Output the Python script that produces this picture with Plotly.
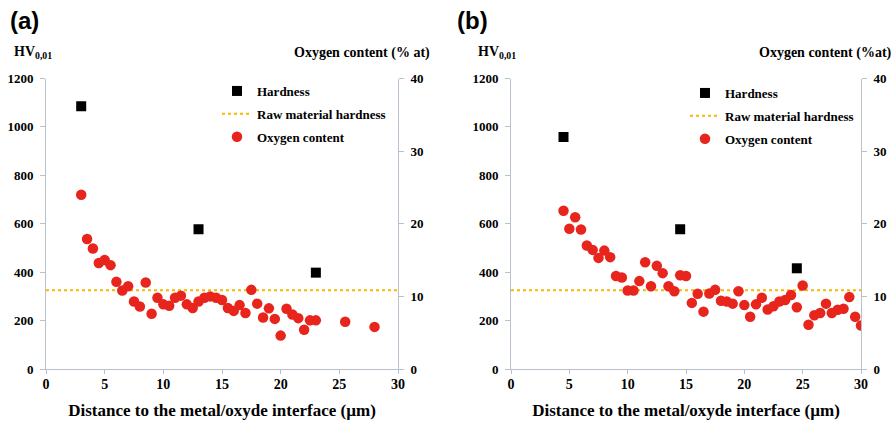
import plotly.graph_objects as go

W, H = 896, 423

# ---------------- data ----------------
raw_hardness = 325
raw_x = [0, 30]

hard_x_a = [3.0, 13.0, 23.0]
hard_y_a = [1085, 577, 398]
oxy_x_a = [3.0, 3.5, 4.0, 4.5, 5.0, 5.5, 6.0, 6.5, 7.0, 7.5, 8.0, 8.5, 9.0, 9.5,
           10.0, 10.5, 11.0, 11.5, 12.0, 12.5, 13.0, 13.5, 14.0, 14.5, 15.0, 15.5,
           16.0, 16.5, 17.0, 17.5, 18.0, 18.5, 19.0, 19.5, 20.0, 20.5, 21.0, 21.5,
           22.0, 22.5, 23.0, 25.5, 28.0]
oxy_y_a = [24.0, 17.9, 16.6, 14.6, 15.0, 14.3, 12.0, 10.8, 11.4, 9.3, 8.6, 11.9, 7.6, 9.8,
           8.9, 8.7, 9.8, 10.1, 8.9, 8.4, 9.3, 9.8, 10.0, 9.8, 9.5, 8.4,
           8.0, 8.8, 7.7, 10.9, 9.0, 7.1, 8.35, 6.9, 4.6, 8.3, 7.5, 7.0,
           5.4, 6.7, 6.7, 6.5, 5.8]

hard_x_b = [4.5, 14.5, 24.5]
hard_y_b = [958, 577, 416]
oxy_x_b = [4.5, 5.0, 5.5, 6.0, 6.5, 7.0, 7.5, 8.0, 8.5, 9.0, 9.5, 10.0, 10.5, 11.0,
           11.5, 12.0, 12.5, 13.0, 13.5, 14.0, 14.5, 15.0, 15.5, 16.0, 16.5, 17.0,
           17.5, 18.0, 18.5, 19.0, 19.5, 20.0, 20.5, 21.0, 21.5, 22.0, 22.5, 23.0,
           23.5, 24.0, 24.5, 25.0, 25.5, 26.0, 26.5, 27.0, 27.5, 28.0, 28.5, 29.0,
           29.5, 30.0]
oxy_y_b = [21.8, 19.3, 20.9, 19.2, 17.0, 16.4, 15.3, 16.3, 15.4, 12.8, 12.6, 10.8, 10.8, 12.1,
           14.7, 11.4, 14.2, 13.2, 11.4, 10.7, 12.9, 12.8, 9.1, 10.35, 7.9, 10.4,
           10.9, 9.4, 9.3, 9.0, 10.7, 8.8, 7.2, 8.9, 9.8, 8.2, 8.65, 9.3,
           9.5, 10.2, 8.5, 11.5, 6.1, 7.4, 7.7, 9.0, 7.7, 8.15, 8.3, 9.9,
           7.2, 6.0]

x_ticks = [0, 5, 10, 15, 20, 25, 30]
hv_ticks = [0, 200, 400, 600, 800, 1000, 1200]
oxy_ticks = [0, 10, 20, 30, 40]

names = ["Hardness", "Raw material hardness", "Oxygen content"]
x_title = "Distance to the metal/oxyde interface (µm)"
left_title = "HV<sub>0,01</sub>"
right_titles = ["Oxygen content (% at)", "Oxygen content (%at)"]
panel_labels = ["(a)", "(b)"]

# ---------------- style ----------------
SERIF = "'Liberation Serif', 'Times New Roman', serif"
SANS = "'Liberation Sans', Arial, sans-serif"
AX_COL = "#b7c0cb"
RED = "#e8251d"
YEL = "#f6b800"

def px_x(p):
    return p / W

def px_y(p):
    return 1 - p / H

y_dom = [px_y(369), px_y(78.5)]
x_doms = [[px_x(46), px_x(398)], [px_x(511), px_x(861)]]

fig = go.Figure()

panels = [
    (hard_x_a, hard_y_a, oxy_x_a, oxy_y_a),
    (hard_x_b, hard_y_b, oxy_x_b, oxy_y_b),
]

for i, (hx, hy, ox, oy) in enumerate(panels):
    xa = "x" if i == 0 else "x2"
    ya = "y" if i == 0 else "y3"
    ya2 = "y2" if i == 0 else "y4"
    leg = "legend" if i == 0 else "legend2"
    fig.add_trace(go.Scatter(
        x=hx, y=hy, mode="markers", name=names[0],
        marker=dict(symbol="square", size=10, color="black"),
        xaxis=xa, yaxis=ya, legend=leg, legendgroup=f"h{i}", legendrank=1))
    fig.add_trace(go.Scatter(
        x=raw_x, y=[raw_hardness, raw_hardness], mode="lines", name=names[1],
        line=dict(color=YEL, width=2, dash="dot"),
        xaxis=xa, yaxis=ya, legend=leg, legendgroup=f"r{i}", legendrank=2))
    fig.add_trace(go.Scatter(
        x=ox, y=oy, mode="markers", name=names[2],
        marker=dict(symbol="circle", size=10.5, color=RED),
        xaxis=xa, yaxis=ya2, legend=leg, legendgroup=f"o{i}", legendrank=3))

tickfont = dict(family=SERIF, size=13, color="black", weight="bold")

def xaxis_cfg(dom, anchor):
    return dict(domain=dom, anchor=anchor, range=[0, 30], tickvals=x_ticks,
                showline=True, linecolor=AX_COL, linewidth=1, ticks="outside",
                ticklen=4, tickcolor=AX_COL, showgrid=False, zeroline=False,
                automargin=False,
                tickfont=dict(family=SERIF, size=14, color="black", weight="bold"),
                ticklabelstandoff=-2,
                title=dict(text=x_title, standoff=13,
                           font=dict(family=SERIF, size=17, color="black", weight="bold")))

def yaxis_cfg(anchor, rng, vals, side, overlay=None):
    d = dict(domain=y_dom, anchor=anchor, range=rng, tickvals=vals, side=side,
             showline=True, linecolor=AX_COL, linewidth=1, ticks="outside",
             ticklen=5, tickcolor=AX_COL, showgrid=False, zeroline=False,
             automargin=False, tickfont=tickfont, ticklabelstandoff=4)
    if overlay:
        d["overlaying"] = overlay
    return d

fig.update_layout(
    width=W, height=H,
    margin=dict(l=0, r=0, t=0, b=0, autoexpand=False),
    paper_bgcolor="white", plot_bgcolor="white",
    xaxis=xaxis_cfg(x_doms[0], "y"),
    yaxis=yaxis_cfg("x", [0, 1200], hv_ticks, "left"),
    yaxis2=yaxis_cfg("x", [0, 40], oxy_ticks, "right", "y"),
    xaxis2=xaxis_cfg(x_doms[1], "y3"),
    yaxis3=yaxis_cfg("x2", [0, 1200], hv_ticks, "left"),
    yaxis4=yaxis_cfg("x2", [0, 40], oxy_ticks, "right", "y3"),
    legend=dict(x=px_x(217), y=px_y(76), xanchor="left", yanchor="top",
                bgcolor="rgba(0,0,0,0)", tracegroupgap=3,
                font=dict(family=SERIF, size=13, color="black", weight="bold")),
    legend2=dict(x=px_x(685), y=px_y(78), xanchor="left", yanchor="top",
                 bgcolor="rgba(0,0,0,0)", tracegroupgap=3,
                 font=dict(family=SERIF, size=13, color="black", weight="bold")),
)

ann = []
for i, (lx, hvx, ox_r) in enumerate([(8, 12, 432), (455, 476, 894)]):
    ann.append(dict(text=panel_labels[i], x=px_x(lx), y=px_y(21), xref="paper", yref="paper",
                    xanchor="left", yanchor="middle", showarrow=False,
                    font=dict(family=SANS, size=24, color="black", weight="bold")))
    ann.append(dict(text=left_title, x=px_x(hvx), y=px_y(53), xref="paper", yref="paper",
                    xanchor="left", yanchor="middle", showarrow=False,
                    font=dict(family=SERIF, size=14, color="black", weight="bold")))
    ann.append(dict(text=right_titles[i], x=px_x(ox_r), y=px_y(53), xref="paper", yref="paper",
                    xanchor="right", yanchor="middle", showarrow=False,
                    font=dict(family=SERIF, size=14, color="black", weight="bold")))
fig.update_layout(annotations=ann)

fig.write_html("out.html", config={"displayModeBar": False},
               post_script="document.body.style.margin='0';document.body.style.overflow='hidden';")
